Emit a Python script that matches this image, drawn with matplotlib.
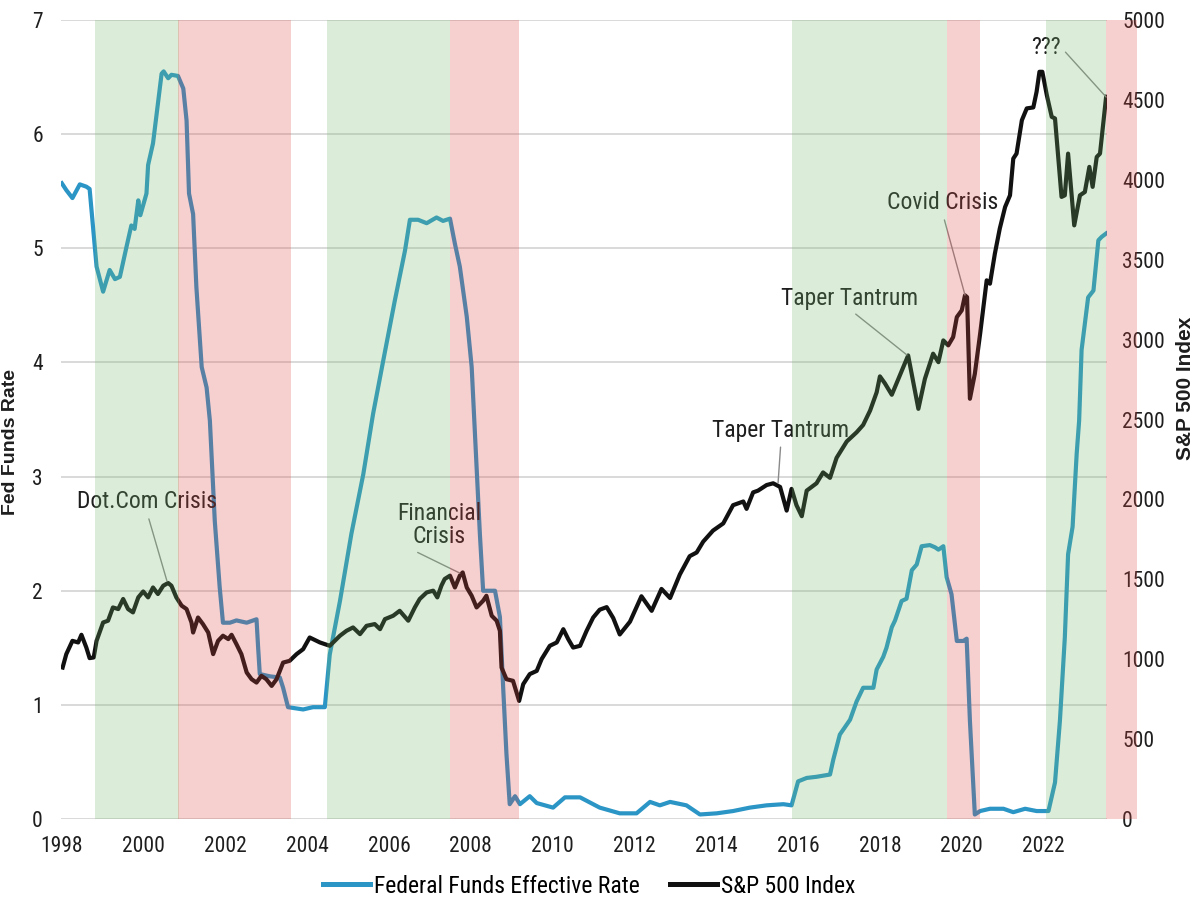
import matplotlib
matplotlib.use('Agg')
import matplotlib.pyplot as plt
from matplotlib import font_manager as fm

# Federal funds effective rate (%)
fed_years = [1998.00, 1998.11, 1998.26, 1998.44, 1998.60, 1998.68, 1998.85,
             1999.01, 1999.17, 1999.30, 1999.42, 1999.58, 1999.70, 1999.78, 1999.87, 1999.92,
             2000.07, 2000.11, 2000.23, 2000.35, 2000.44, 2000.49, 2000.60, 2000.68, 2000.84, 2000.97,
             2001.05, 2001.11, 2001.21, 2001.29, 2001.42, 2001.54, 2001.62, 2001.74, 2001.86, 2001.94,
             2002.11, 2002.27, 2002.52, 2002.76, 2002.80, 2002.84,
             2003.09, 2003.33, 2003.41, 2003.53, 2003.90,
             2004.14, 2004.43, 2004.55, 2004.80,
             2005.08, 2005.37, 2005.61, 2005.86,
             2006.14, 2006.39, 2006.51, 2006.71, 2006.92,
             2007.16, 2007.32, 2007.49, 2007.61, 2007.73, 2007.90,
             2008.02, 2008.10, 2008.22, 2008.30, 2008.59, 2008.71, 2008.79, 2008.87, 2008.95,
             2009.08, 2009.20, 2009.44, 2009.61,
             2010.01, 2010.30, 2010.67,
             2011.15, 2011.64,
             2012.05, 2012.38, 2012.62, 2012.87,
             2013.27, 2013.60,
             2014.01, 2014.41, 2014.82,
             2015.23, 2015.64, 2015.84,
             2016.00, 2016.21, 2016.45, 2016.78, 2016.86,
             2017.02, 2017.27, 2017.43, 2017.59, 2017.84, 2017.92,
             2018.08, 2018.16, 2018.29, 2018.37, 2018.53, 2018.65, 2018.78, 2018.90,
             2019.02, 2019.22, 2019.35, 2019.43, 2019.55, 2019.63, 2019.75, 2019.88,
             2020.04, 2020.12, 2020.20, 2020.32, 2020.45, 2020.69,
             2021.02, 2021.26, 2021.55, 2021.83,
             2022.12, 2022.28, 2022.40, 2022.52, 2022.60, 2022.71, 2022.81, 2022.87, 2022.93,
             2023.09, 2023.22, 2023.34, 2023.42, 2023.53]
fed_rate = [5.57, 5.51, 5.44, 5.56, 5.54, 5.52, 4.84,
            4.62, 4.81, 4.73, 4.75, 5.01, 5.20, 5.17, 5.42, 5.29,
            5.48, 5.73, 5.92, 6.27, 6.53, 6.55, 6.49, 6.52, 6.51, 6.40,
            6.12, 5.48, 5.30, 4.66, 3.96, 3.78, 3.49, 2.61, 2.03, 1.72,
            1.72, 1.74, 1.72, 1.75, 1.50, 1.27,
            1.25, 1.24, 1.15, 0.98, 0.96,
            0.98, 0.98, 1.44, 1.91,
            2.50, 3.02, 3.55, 4.02,
            4.54, 4.98, 5.25, 5.25, 5.22,
            5.27, 5.24, 5.26, 5.04, 4.84, 4.40,
            3.96, 3.37, 2.50, 2.00, 2.00, 1.77, 1.15, 0.57, 0.13,
            0.20, 0.13, 0.20, 0.14,
            0.10, 0.19, 0.19,
            0.10, 0.05,
            0.05, 0.15, 0.12, 0.15,
            0.12, 0.04,
            0.05, 0.07, 0.10,
            0.12, 0.13, 0.12,
            0.33, 0.36, 0.37, 0.39, 0.52,
            0.74, 0.87, 1.03, 1.15, 1.15, 1.31,
            1.42, 1.50, 1.68, 1.74, 1.91, 1.93, 2.18, 2.23,
            2.39, 2.40, 2.38, 2.36, 2.39, 2.12, 1.97, 1.56,
            1.56, 1.58, 0.86, 0.04, 0.07, 0.09,
            0.09, 0.06, 0.09, 0.07,
            0.07, 0.32, 0.86, 1.59, 2.32, 2.56, 3.20, 3.49, 4.11,
            4.57, 4.63, 5.07, 5.10, 5.13]

# S&P 500 index level
spx_years = [1998.02, 1998.11, 1998.26, 1998.40, 1998.48, 1998.60, 1998.68, 1998.78, 1998.85,
             1999.01, 1999.13, 1999.25, 1999.38, 1999.50, 1999.62, 1999.74, 1999.87, 1999.99,
             2000.11, 2000.23, 2000.35, 2000.48, 2000.60, 2000.68, 2000.80, 2000.93,
             2001.05, 2001.17, 2001.21, 2001.33, 2001.45, 2001.58, 2001.70, 2001.82, 2001.94,
             2002.07, 2002.15, 2002.27, 2002.39, 2002.52, 2002.64, 2002.76, 2002.88,
             2003.00, 2003.13, 2003.25, 2003.41, 2003.57, 2003.74, 2003.90,
             2004.06, 2004.31, 2004.55, 2004.80, 2004.96,
             2005.12, 2005.29, 2005.45, 2005.65, 2005.78, 2005.90,
             2006.10, 2006.26, 2006.47, 2006.63, 2006.75, 2006.92,
             2007.08, 2007.18, 2007.28, 2007.36, 2007.49, 2007.61, 2007.73, 2007.80, 2007.90,
             2008.02, 2008.14, 2008.30, 2008.38, 2008.51, 2008.63, 2008.71, 2008.75, 2008.87,
             2009.03, 2009.18, 2009.28, 2009.44, 2009.61, 2009.73, 2009.93,
             2010.10, 2010.26, 2010.38, 2010.50, 2010.67, 2010.83, 2010.99,
             2011.15, 2011.32, 2011.48, 2011.64, 2011.89,
             2012.17, 2012.42, 2012.66, 2012.87,
             2013.11, 2013.35, 2013.52, 2013.68, 2013.92,
             2014.17, 2014.41, 2014.66, 2014.74, 2014.90,
             2015.02, 2015.23, 2015.39, 2015.56, 2015.72, 2015.84, 2015.96,
             2016.09, 2016.21, 2016.45, 2016.61, 2016.78, 2016.94,
             2017.19, 2017.43, 2017.59, 2017.76, 2017.92,
             2018.00, 2018.12, 2018.29, 2018.69, 2018.94,
             2019.10, 2019.30, 2019.43, 2019.55, 2019.67, 2019.79, 2019.88,
             2020.00, 2020.08, 2020.13, 2020.20, 2020.32, 2020.45, 2020.61, 2020.69, 2020.81, 2020.93,
             2021.06, 2021.18, 2021.26, 2021.34, 2021.47, 2021.59, 2021.75, 2021.83, 2021.90, 2021.97,
             2022.08, 2022.20, 2022.28, 2022.44, 2022.52, 2022.60, 2022.75, 2022.89,
             2023.01, 2023.12, 2023.20, 2023.30, 2023.38, 2023.53]
spx_vals = [948, 1032, 1115, 1105, 1153, 1073, 1007, 1011, 1115,
            1230, 1241, 1324, 1314, 1377, 1314, 1293, 1387, 1424,
            1387, 1449, 1408, 1460, 1477, 1460, 1387, 1335,
            1314, 1230, 1167, 1261, 1220, 1167, 1032, 1115, 1147,
            1126, 1153, 1094, 1032, 917, 875, 854, 896,
            875, 833, 875, 979, 990, 1032, 1063,
            1136, 1105, 1084, 1147, 1178,
            1199, 1157, 1209, 1220, 1188, 1251,
            1272, 1303, 1241, 1324, 1377, 1418,
            1429, 1387, 1460, 1502, 1523, 1449, 1523, 1543, 1449,
            1397, 1324, 1366, 1397, 1272, 1241, 1178, 948, 875,
            865, 739, 844, 907, 927, 1001, 1084,
            1105, 1188, 1126, 1073, 1084, 1178, 1261,
            1310, 1326, 1258, 1155, 1235,
            1394, 1303, 1440, 1383,
            1531, 1645, 1668, 1736, 1805,
            1850, 1964, 1987, 1941, 2044,
            2055, 2090, 2101, 2078, 1930, 2066, 1964,
            1895, 2055, 2101, 2169, 2135, 2260,
            2363, 2420, 2466, 2556, 2670,
            2770, 2727, 2655, 2901, 2567,
            2755, 2912, 2859, 2995, 2964, 3016, 3141,
            3183, 3277, 3266, 2630, 2786, 3037, 3371, 3350, 3538, 3695,
            3830, 3903, 4133, 4164, 4373, 4447, 4453, 4551, 4676, 4676,
            4530, 4394, 4384, 3893, 3903, 4164, 3715, 3903,
            3924, 4081, 3956, 4143, 4164, 4520]

# shaded periods (easing = green, tightening/crisis = red)
green_spans = [(1998.81, 2000.86), (2004.48, 2007.49), (2015.85, 2019.64), (2022.06, 2023.53)]
red_spans = [(2000.84, 2003.60), (2007.49, 2009.17), (2019.64, 2020.45), (2023.53, 2024.28)]

year_ticks = [1998, 2000, 2002, 2004, 2006, 2008, 2010, 2012, 2014, 2016, 2018, 2020, 2022]
rate_ticks = [0, 1, 2, 3, 4, 5, 6, 7]
spx_ticks = [0, 500, 1000, 1500, 2000, 2500, 3000, 3500, 4000, 4500, 5000]

# annotations: label, point on S&P line, label position
notes = [('Dot.Com Crisis', (2000.57, 1490), (2000.09, 1984), (0.5, 0.0)),
         ('Financial\nCrisis', (2007.73, 1539), (2007.22, 1840), (0.15, 0.0)),
         ('Taper Tantrum', (2015.51, 2103), (2015.58, 2434), (0.5, 0.0)),
         ('Taper Tantrum', (2018.66, 2904), (2017.27, 3260), (0.5, 0.0)),
         ('Covid Crisis', (2020.08, 3279), (2019.54, 3855), (0.5, 0.0)),
         ('???', (2023.53, 4518), (2022.06, 4831), (1.0, 0.5))]

# pick a condensed face if there is one
avail = set(f.name for f in fm.fontManager.ttflist)
cond = None
for cand in ['Roboto Condensed', 'Liberation Sans Narrow', 'Open Sans Condensed', 'Noto Sans Condensed']:
  if cand in avail:
    cond = cand
    break
if cond:
  fam = [cond, 'DejaVu Sans']
  tsize, lsize, asize = 15.5, 17, 17
else:
  fam = ['Liberation Sans', 'DejaVu Sans']
  tsize, lsize, asize = 13.5, 14.5, 14.5

blue = '#2b95c6'
txt = '#1e1e1e'

fig = plt.figure(figsize=(11.98, 9.14), dpi=100)
ax1 = fig.add_axes([0.0509, 0.1039, 0.8731, 0.8742])
ax2 = ax1.twinx()

l1, = ax1.plot(fed_years, fed_rate, color=blue, lw=3.0, solid_joinstyle='round', zorder=3)
l2, = ax2.plot(spx_years, spx_vals, color='#111111', lw=3.0, solid_joinstyle='round', zorder=3)

ax1.set_xlim(1997.98, 2023.55)
ax1.set_ylim(0, 7)
ax2.set_ylim(0, 5000)

ax1.set_xticks(year_ticks)
ax1.set_xticklabels([str(y) for y in year_ticks])
ax1.set_yticks(rate_ticks)
ax2.set_yticks(spx_ticks)

ax1.grid(True, axis='y', color='#cfcfcf', lw=1.1)
ax1.set_axisbelow(True)

for ax in (ax1, ax2):
  for s in ax.spines.values():
    s.set_visible(False)
  ax.tick_params(length=0, colors=txt)
  for lab in ax.get_xticklabels() + ax.get_yticklabels():
    lab.set_family(fam)
    lab.set_fontsize(tsize)
ax1.tick_params(axis='x', pad=12)
ax1.tick_params(axis='y', pad=13)
ax2.tick_params(axis='y', pad=11)

ax1.set_ylabel('Fed Funds Rate', fontsize=14, fontweight='bold', family=['Liberation Sans', 'DejaVu Sans'], color=txt)
ax1.yaxis.set_label_coords(-0.040, 0.472)
ax2.set_ylabel('S&P 500 Index', fontsize=15, fontweight='bold', family=['Liberation Sans', 'DejaVu Sans'], color=txt)
ax2.yaxis.set_label_coords(1.066, 0.539)

for label, xy, xyt, rp in notes:
  ax2.annotate(label, xy=xy, xytext=xyt, ha='center', va='center', fontsize=asize,
               family=fam, color=txt, multialignment='center', linespacing=1.05,
               arrowprops=dict(arrowstyle='-', color='#8a8a8a', lw=1.0, shrinkA=2, shrinkB=0, relpos=rp),
               zorder=4)

# transparent bands laid over everything, like the original
for x0, x1 in green_spans:
  p = ax2.axvspan(x0, x1, color='#73bb6b', alpha=0.25, lw=0, zorder=10)
  p.set_clip_on(False)
for x0, x1 in red_spans:
  p = ax2.axvspan(x0, x1, color='#df4343', alpha=0.25, lw=0, zorder=10)
  p.set_clip_on(False)

fig.legend([l1, l2], ['Federal Funds Effective Rate', 'S&P 500 Index'], loc='center',
           bbox_to_anchor=(0.4917, 0.0306), ncol=2, frameon=False, handlelength=2.0,
           handletextpad=0.15, columnspacing=1.3, prop={'family': fam, 'size': lsize})
for h in fig.legends[0].legend_handles:
  h.set_linewidth(3.6)

fig.savefig('out.png', dpi=100)
